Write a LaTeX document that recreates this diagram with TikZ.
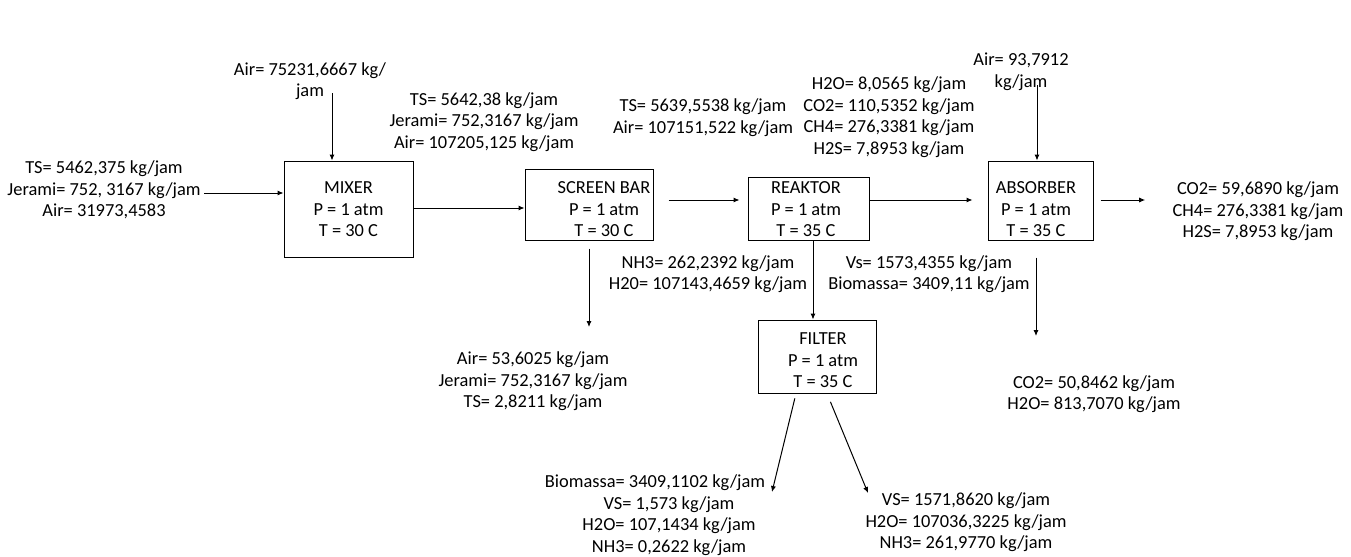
\documentclass[tikz,border=0pt]{standalone}
\usepackage{fontspec}
\setmainfont{Carlito}
\usetikzlibrary{arrows.meta,fit}
\begin{document}
\begin{tikzpicture}[x=0.5pt,y=-0.5pt,line width=0.5pt,
  font=\fontsize{9.2}{10.75}\selectfont,
  unit/.style={draw,inner sep=0pt},
  txt/.style={align=center,inner sep=1.5pt},
  flow/.style={-{Latex[length=3pt,width=2.6pt]}}]
\useasboundingbox (0,0) rectangle (1351,557);
% unit boxes
\foreach \n/\a/\b in {mixer/{284,161}/{413,257},sbar/{525,169}/{653,240},
  reaktor/{748,177}/{869,240},absorber/{988,161}/{1093,240},filter/{758,320}/{876,393}}
  \node[unit,fit={(\a) (\b)}] (\n) {};
\node[txt] (mixert) at (348.5,209.5) {MIXER\\P = 1 atm\\T = 30 C};
\node[txt] (sbart) at (604,209.5) {SCREEN BAR\\P = 1 atm\\T = 30 C};
\node[txt] (reaktort) at (806,209.5) {REAKTOR\\P = 1 atm\\T = 35 C};
\node[txt] (absorbert) at (1036,209.5) {ABSORBER\\P = 1 atm\\T = 35 C};
\node[txt] (filtert) at (823,360.5) {FILTER\\P = 1 atm\\T = 35 C};
% stream labels
\node[txt] (feed) at (104,190) {TS= 5462,375 kg/jam\\Jerami= 752, 3167 kg/jam\\Air= 31973,4583};
\node[txt] (airmix) at (310,81) {Air= 75231,6667 kg/\\jam};
\node[txt] (s1) at (484,122) {TS= 5642,38 kg/jam\\Jerami= 752,3167 kg/jam\\Air= 107205,125 kg/jam};
\node[txt] (s2) at (703,117.5) {TS= 5639,5538 kg/jam\\Air= 107151,522 kg/jam};
\node[txt] (biogas) at (889,117) {H2O= 8,0565 kg/jam\\CO2= 110,5352 kg/jam\\CH4= 276,3381 kg/jam\\H2S= 7,8953 kg/jam};
\node[txt] (airabs) at (1021,72) {Air= 93,7912\\kg/jam};
\node[txt] (gas) at (1258,211.5) {CO2= 59,6890 kg/jam\\CH4= 276,3381 kg/jam\\H2S= 7,8953 kg/jam};
\node[txt] (liq) at (708,274) {NH3= 262,2392 kg/jam\\H20= 107143,4659 kg/jam};
\node[txt] (sludge) at (929,274) {Vs= 1573,4355 kg/jam\\Biomassa= 3409,11 kg/jam};
\node[txt] (waste) at (533,381.5) {Air= 53,6025 kg/jam\\Jerami= 752,3167 kg/jam\\TS= 2,8211 kg/jam};
\node[txt] (absliq) at (1094,394) {CO2= 50,8462 kg/jam\\H2O= 813,7070 kg/jam};
\node[txt] (cake) at (669,515) {Biomassa= 3409,1102 kg/jam\hspace*{14pt}\\VS= 1,573 kg/jam\\H2O= 107,1434 kg/jam\\NH3= 0,2622 kg/jam};
\node[txt] (filtrate) at (966,522.5) {VS= 1571,8620 kg/jam\\H2O= 107036,3225 kg/jam\\NH3= 261,9770 kg/jam};
% rows and free ends
\path (0,193) coordinate (feedrow) (0,208) coordinate (mixrow) (0,200) coordinate (row)
  (332,93) coordinate (airin) (1037,85) coordinate (absin) (589,327) coordinate (wasteout)
  (813,0) coordinate (drop) (1036,336) coordinate (absout)
  (772,492) coordinate (cakein) (868,493) coordinate (filtin);
% streams
\draw[flow] (feed.east |- feedrow) -- (mixer.west |- feedrow);
\draw[flow] (airin) -- (airin |- mixer.north);
\draw[flow] (mixer.east |- mixrow) -- (sbar.west |- mixrow);
\draw[flow,shorten <=7.5pt,shorten >=4pt] (sbar.east |- row) -- (reaktor.west |- row);
\draw[flow,shorten >=7.5pt] (reaktor.east |- row) -- (absorber.west |- row);
\draw[flow] (absin) -- (absin |- absorber.north);
\draw[flow,shorten <=3.5pt,shorten >=12pt] (absorber.east |- row) -- (gas.west |- row);
\draw[flow,shorten <=4pt] (sbar.south) -- (sbar.south |- wasteout);
\draw[flow] (reaktor.south -| drop) -- (filter.north -| drop);
\draw[flow,shorten <=8.5pt] (absorber.south -| absout) -- (absout);
\draw[flow,shorten <=2.5pt] ([xshift=-10.5pt]filter.south) -- (cakein);
\draw[flow,shorten <=4.5pt] ([xshift=5pt]filter.south) -- (filtin);
\end{tikzpicture}
\end{document}
